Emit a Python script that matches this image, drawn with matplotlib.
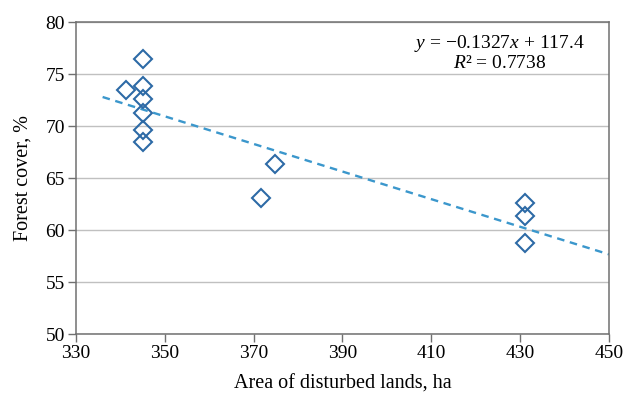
import numpy as np
import matplotlib
matplotlib.use("Agg")
import matplotlib.pyplot as plt

# data
disturbed_area = [341.3, 345, 345, 345, 345, 345, 345, 371.6, 374.8, 431, 431, 431]
forest_cover = [73.5, 76.5, 73.9, 72.6, 71.3, 69.6, 68.5, 63.1, 66.35, 62.65, 61.4, 58.8]

slope = -0.1327
intercept = 117.4
r2 = 0.7738
trend_x = [336, 450]

x_ticks = [330, 350, 370, 390, 410, 430, 450]
y_ticks = [50, 55, 60, 65, 70, 75, 80]

plt.rcParams['font.family'] = 'Liberation Serif'
plt.rcParams['mathtext.fontset'] = 'custom'
plt.rcParams['mathtext.rm'] = 'Liberation Serif'
plt.rcParams['mathtext.it'] = 'Liberation Serif:italic'

fig = plt.figure(figsize=(6.33, 3.95), dpi=100)
ax = fig.add_axes([0.120, 0.1537, 0.842, 0.79])

spine_col = '#707070'
grid_col = '#c0c0c0'

# trend line
tx = np.array(trend_x, dtype=float)
ax.plot(tx, slope * tx + intercept, color='#3b97cc', lw=1.7,
        linestyle=(0, (3.2, 2.4)), zorder=2)

ax.plot(disturbed_area, forest_cover, linestyle='none', marker='D', ms=9,
        mfc='none', mec='#2d6aa6', mew=1.5, zorder=3)

ax.set_xlim(330, 450)
ax.set_ylim(50, 80)
ax.set_xticks(x_ticks)
ax.set_yticks(y_ticks)
ax.yaxis.grid(True, color=grid_col, lw=1.0)
ax.set_axisbelow(True)

for s in ax.spines.values():
    s.set_color(spine_col)
    s.set_linewidth(1.1)
ax.tick_params(direction='out', length=6, width=1.0, color=spine_col,
               labelsize=14, pad=2)

ax.set_xlabel('Area of disturbed lands, ha', fontsize=14.5, labelpad=9)
ax.set_ylabel('Forest cover, %', fontsize=14.5, labelpad=9)

eq = r'$y$ = −0.1327$x$ + 117.4' + '\n' + r'$R$² = ' + f'{r2:.4f}'
ax.text(0.795, 0.965, eq, transform=ax.transAxes, ha='center', va='top',
        fontsize=14, linespacing=1.05)

fig.savefig('out.png', dpi=100)
